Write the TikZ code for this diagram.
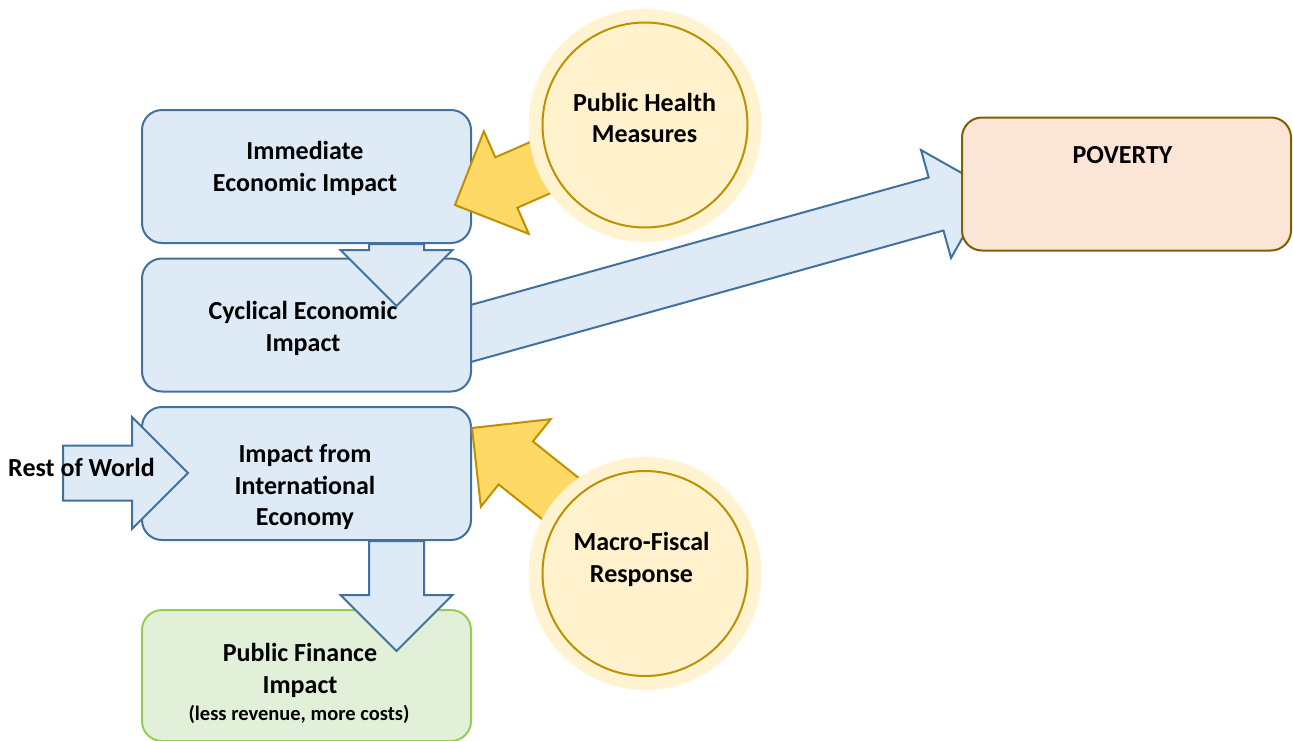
\documentclass[tikz,border=0pt]{standalone}
\usepackage{fontspec}
\setmainfont{Carlito}
\usetikzlibrary{calc}

\definecolor{boxblue}{RGB}{222,235,247}
\definecolor{lineblue}{RGB}{65,113,156}
\definecolor{arryellow}{RGB}{255,217,102}
\definecolor{linegold}{RGB}{191,144,0}
\definecolor{circfill}{RGB}{255,242,204}
\definecolor{glowfill}{RGB}{255,243,209}
\definecolor{povfill}{RGB}{251,229,214}
\definecolor{povline}{RGB}{127,96,0}
\definecolor{finfill}{RGB}{226,240,217}
\definecolor{finline}{RGB}{146,208,80}

\tikzset{
 box/.style={draw=lineblue,fill=boxblue,line width=2pt,rounded corners=20pt,
   minimum width=329pt,minimum height=133pt,inner sep=0pt},
 povbox/.style={box,draw=povline,fill=povfill},
 finbox/.style={box,draw=finline,fill=finfill,minimum height=131pt},
 glow/.style={circle,fill=glowfill,minimum size=233pt,inner sep=0pt},
 disc/.style={circle,draw=linegold,fill=circfill,line width=2pt,minimum size=205pt,inner sep=0pt},
 txt/.style={font=\bfseries\fontsize{26}{31.5}\selectfont,align=center,inner sep=0pt},
 small/.style={font=\bfseries\fontsize{20.5}{24}\selectfont,inner sep=0pt},
 bluearrow/.style={draw=lineblue,fill=boxblue,line width=2pt},
 goldarrow/.style={draw=linegold,fill=arryellow,line width=2pt}
}

% block arrow: style, tail, tip
\newcommand\blockarrow[3]{%
 \coordinate (ba-h) at ($(#3)!56pt!(#2)$);
 \draw[#1] ($(#2)!27.5pt!90:(#3)$) -- ($(ba-h)!27.5pt!90:(#3)$) -- ($(ba-h)!56pt!90:(#3)$)
   -- (#3) -- ($(ba-h)!56pt!-90:(#3)$) -- ($(ba-h)!27.5pt!-90:(#3)$) -- ($(#2)!27.5pt!-90:(#3)$) -- cycle;
}

\begin{document}
\begin{tikzpicture}[x=1pt,y=-1pt]
 \useasboundingbox (0,0) rectangle (1293,740);

 % arrow to poverty, behind the boxes
 \coordinate (cyc-tail) at (442,341.5);
 \coordinate (pov-tip) at (990,189);
 \blockarrow{bluearrow}{cyc-tail}{pov-tip}

 % boxes
 \node[box] (imm) at (306.5,176.5) {};
 \node[box] (cyc) at (306.5,325) {};
 \node[box] (intl) at (306.5,473.5) {};
 \node[finbox] (fin) at (306.5,675.5) {};
 \node[povbox] (pov) at (1126.5,184) {};

 % blue arrows
 \coordinate (cyc-tip) at (396.5,306);
 \coordinate (fin-tip) at (396.5,651);
 \coordinate (row-tail) at (63,473);
 \coordinate (row-tip) at (188,473);
 \blockarrow{bluearrow}{$(imm.south)+(90,0)$}{cyc-tip}
 \blockarrow{bluearrow}{$(intl.south)+(90,0)$}{fin-tip}
 \blockarrow{bluearrow}{row-tail}{row-tip}

 % yellow arrows
 \coordinate (health-c) at (640,124);
 \coordinate (imm-tip) at (455,205);
 \coordinate (macro-c) at (640,562);
 \coordinate (intl-tip) at (472,428);
 \blockarrow{goldarrow}{health-c}{imm-tip}
 \blockarrow{goldarrow}{macro-c}{intl-tip}

 % circles
 \node[glow] at (645,125.5) {};
 \node[disc] (health) at (645,125) {};
 \node[glow] at (645,573.5) {};
 \node[disc] (macro) at (645,573.5) {};

 % texts
 \node[txt] at (305,168.5) {Immediate\\Economic Impact};
 \node[txt] at (303,328.5) {Cyclical Economic\\Impact};
 \node[txt] at (305,487.5) {Impact from\\International\\Economy};
 \node[txt] (fin-t) at (300,670.5) {Public Finance\\Impact};
 \node[small] at (299,714) {(less revenue, more costs)};
 \node[txt] at (1122.5,155) {POVERTY};
 \node[txt] at (644.5,118) {Public Health\\Measures};
 \node[txt] at (641.5,559.5) {Macro-Fiscal\\Response};
 \node[txt] at (81.5,467) {Rest of World};
\end{tikzpicture}
\end{document}
